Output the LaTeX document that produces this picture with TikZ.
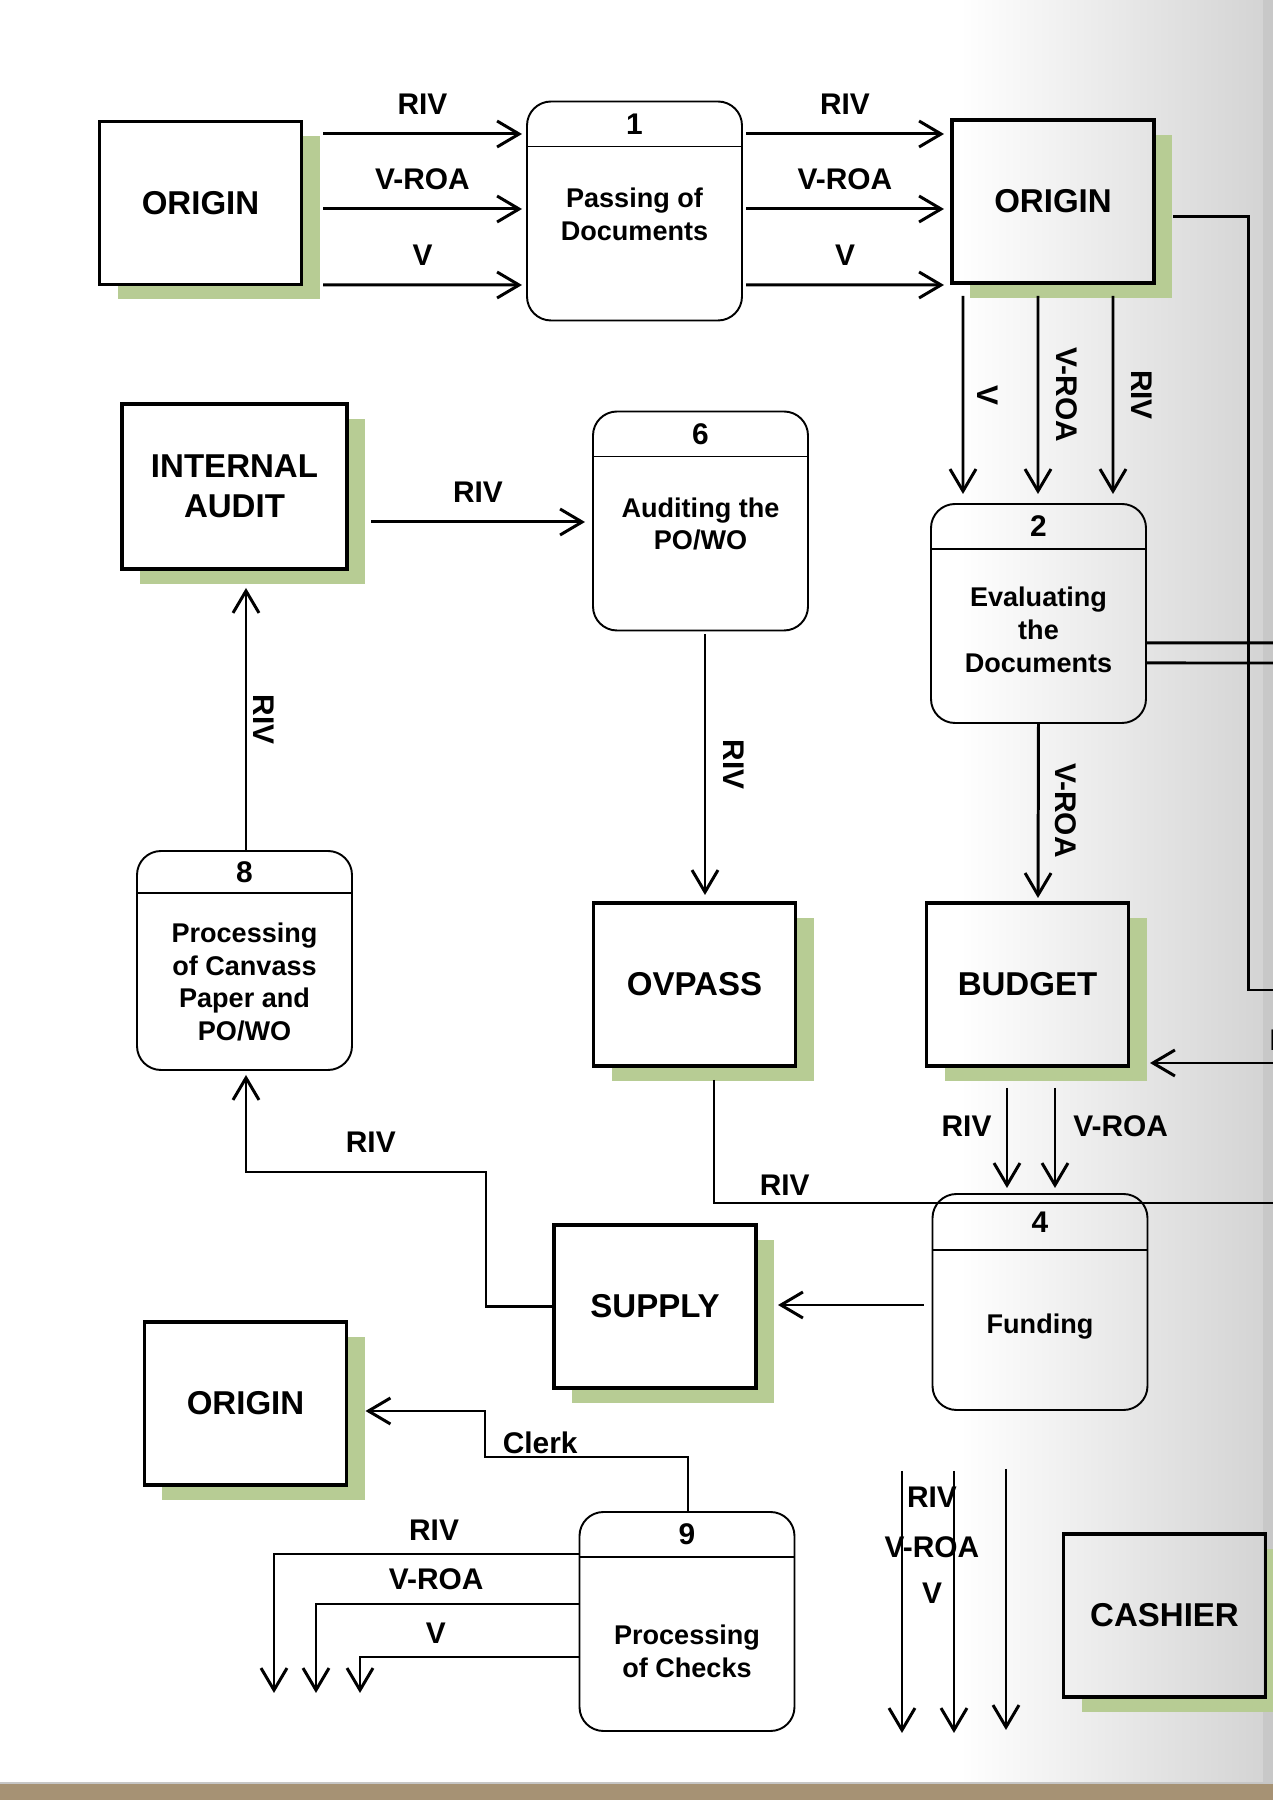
\documentclass[tikz,border=0pt]{standalone}
\usepackage{fontspec}
\setmainfont{Liberation Sans}
\usetikzlibrary{arrows.meta,calc,backgrounds}

\definecolor{shadowgreen}{RGB}{183,204,148}
\definecolor{pagegray}{RGB}{212,212,212}
\definecolor{edgegray}{RGB}{200,200,200}
\definecolor{tablebrown}{RGB}{166,146,116}

\newcommand{\entfont}{\fontsize{9.4}{11.4}\selectfont\bfseries}
\newcommand{\procfont}{\fontsize{7.7}{9.3}\selectfont\bfseries}
\newcommand{\lblfont}{\fontsize{8.5}{10}\selectfont\bfseries}

\begin{document}
\begin{tikzpicture}[line width=0.85pt,>={Straight Barb[length=2.2mm,width=2.6mm]},
  entity/.style={draw,line width=0.95pt,minimum width=2.02cm,minimum height=1.63cm,
    inner sep=0pt,outer sep=0pt,align=center,font=\entfont},
  proc/.style={draw,line width=0.55pt,rounded corners=0.24cm,minimum width=2.15cm,
    minimum height=2.19cm,inner sep=0pt,outer sep=0pt},
  num/.style={font=\lblfont,inner sep=0pt},
  ptext/.style={font=\procfont,align=center,inner sep=0pt},
  flow/.style={->},
  lbl/.style={font=\lblfont,inner sep=1pt},
  vlbl/.style={font=\lblfont,inner sep=0pt,inner ysep=4.5pt,rotate=-90,anchor=south}]
\useasboundingbox (0,0) rectangle (12.73,18);
% ---------- external entities ----------
\node[entity] (o1) at (2.005,15.97) {ORIGIN};
\node[entity] (o2) at (10.53,15.985) {ORIGIN};
\node[entity,minimum width=2.25cm,minimum height=1.65cm] (ia) at (2.345,13.135) {INTERNAL\\AUDIT};
\node[entity] (ovp) at (6.945,8.155) {OVPASS};
\node[entity] (bud) at (10.275,8.155) {BUDGET};
\node[entity] (sup) at (6.55,4.935) {SUPPLY};
\node[entity] (o3) at (2.455,3.965) {ORIGIN};
\node[entity] (cash) at (11.645,1.845) {CASHIER};
% ---------- processes ----------
\node[proc] (p1) at (6.345,15.89) {};
\node[proc] (p2) at (10.385,11.865) {};
\node[proc] (p6) at (7.005,12.79) {};
\node[proc] (p8) at (2.445,8.395) {};
\node[proc,minimum height=2.16cm] (p4) at (10.40,4.98) {};
\node[proc] (p9) at (6.87,1.785) {};
% header lines and numbers
\foreach \p/\n/\d in {p1/1/0.45,p2/2/0.45,p6/6/0.45,p8/8/0.42,p4/4/0.56,p9/9/0.45}{
  \draw[line width=0.45pt] ($(\p.north west)+(0,-\d)$) -- ($(\p.north east)+(0,-\d)$);
  \node[num] (n\n) at ($(\p.north)+(0,-\d/2)$) {\n};
}
\node[ptext] (t1) at (6.345,15.855) {Passing of\\Documents};
\node[ptext] (t2) at (10.385,11.70) {Evaluating\\the\\Documents};
\node[ptext] (t6) at (7.005,12.76) {Auditing the\\PO/WO};
\node[ptext] (t8) at (2.445,8.18) {Processing\\of Canvass\\Paper and\\PO/WO};
\node[ptext] (t4) at (10.40,4.73) {Funding};
\node[ptext] (t9) at (6.87,1.49) {Processing\\of Checks};
% ---------- free ends ----------
\coordinate (eA) at (12.8,8.10);
\coordinate (eB) at (12.8,11.57);
\coordinate (eC) at (12.8,11.37);
\coordinate (eD) at (12.8,7.37);
\coordinate (eE) at (12.8,5.97);
\coordinate (d1) at (2.74,1.07);
\coordinate (d2) at (3.16,1.07);
\coordinate (d3) at (3.60,1.07);
\coordinate (v1a) at (9.02,3.29);
\coordinate (v1b) at (9.02,0.67);
\coordinate (v2a) at (9.54,3.29);
\coordinate (v2b) at (9.54,0.67);
\coordinate (v3a) at (10.06,3.31);
\coordinate (v3b) at (10.06,0.70);
% ---------- flows ----------
% origin -> 1
\draw[flow] ($(o1.east)+(0.215,0.69)$) -- node[lbl,above=4pt] (a1) {RIV} ($(p1.west)+(-0.05,0.77)$);
\draw[flow] ($(o1.east)+(0.215,-0.06)$) -- node[lbl,above=4pt] (a2) {V-ROA} ($(p1.west)+(-0.05,0.02)$);
\draw[flow] ($(o1.east)+(0.215,-0.82)$) -- node[lbl,above=4pt] (a3) {V} ($(p1.west)+(-0.05,-0.74)$);
% 1 -> origin
\draw[flow] ($(p1.east)+(0.04,0.77)$) -- node[lbl,above=4pt] (b1) {RIV} ($(o2.west)+(-0.08,0.675)$);
\draw[flow] ($(p1.east)+(0.04,0.02)$) -- node[lbl,above=4pt] (b2) {V-ROA} ($(o2.west)+(-0.08,-0.075)$);
\draw[flow] ($(p1.east)+(0.04,-0.74)$) -- node[lbl,above=4pt] (b3) {V} ($(o2.west)+(-0.08,-0.835)$);
% origin -> 2
\draw[flow] ($(o2.south)+(-0.90,-0.13)$) -- node[midway,vlbl,inner ysep=3.7pt] (c1) {V} ($(p2.north)+(-0.755,0.10)$);
\draw[flow] ($(o2.south)+(-0.15,-0.13)$) -- node[midway,vlbl,inner ysep=4.8pt] (c2) {V-ROA} ($(p2.north)+(-0.005,0.10)$);
\draw[flow] ($(o2.south)+(0.60,-0.13)$) -- node[midway,vlbl,inner ysep=4.8pt] (c3) {RIV} ($(p2.north)+(0.745,0.10)$);
% origin -> right edge
\draw ($(o2.east)+(0.19,-0.155)$) -- ++(0.75,0) |- (eA);
% 2 -> right edge
\draw ($(p2.east)+(0,-0.295)$) -- (eB);
\draw ($(p2.east)+(0,-0.495)$) -- (eC);
% 2 -> budget
\draw[flow] (p2.south) -- node[midway,vlbl] (c4) {V-ROA} ($(bud.north)+(0.105,0.05)$);
% right edge -> budget
\draw[flow] (eD) -- ($(bud.east)+(0.215,-0.785)$);
\node[lbl,anchor=west] (cut) at (12.645,7.60) {RIV};
% budget -> 4
\draw[flow] ($(bud.south)+(-0.205,-0.22)$) -- node[lbl,pos=0.38,left=3pt] (g1) {RIV} ($(p4.north)+(-0.33,0.06)$);
\draw[flow] ($(bud.south)+(0.275,-0.22)$) -- node[lbl,pos=0.38,right=3.8pt] (g2) {V-ROA} ($(p4.north)+(0.15,0.06)$);
% 4 -> supply
\draw[flow] ($(p4.west)+(-0.09,-0.03)$) -- ($(sup.east)+(0.22,0.015)$);
% ovpass -> right edge
\draw ($(ovp.south)+(0.195,-0.14)$) |- node[lbl,pos=0.5625,above=0.8pt] (h1) {RIV} (eE);
% 6 -> ovpass
\draw[flow] ($(p6.south)+(0.045,-0.04)$) -- node[midway,vlbl,inner ysep=4.8pt] (c5) {RIV} ($(ovp.north)+(0.105,0.08)$);
% internal audit -> 6
\draw[flow] ($(ia.east)+(0.24,-0.355)$) -- node[lbl,above=4pt] (k1) {RIV} ($(p6.west)+(-0.08,-0.01)$);
% 8 -> internal audit
\draw[flow] ($(p8.north)+(0.015,0)$) -- node[midway,vlbl,inner ysep=1.7pt] (c6) {RIV} ($(ia.south)+(0.115,-0.19)$);
% supply -> 8
\draw[flow] (sup.west) -| (4.86,6.28) -| node[lbl,pos=0.24,above=4pt] (m1) {RIV} ($(p8.south)+(0.015,-0.05)$);
% 9 -> origin
\draw[flow] ($(p9.north)+(0.01,0)$) |- node[lbl,pos=0.864,above=0pt,inner sep=0.5pt] (ck) {Clerk} (4.85,3.43)
  |- ($(o3.east)+(0.19,-0.075)$);
% 9 -> out
\draw[flow] ($(p9.west)+(0,0.675)$) -| node[lbl,pos=0.238,above=2.5pt] (q1) {RIV} (d1);
\draw[flow] ($(p9.west)+(0,0.175)$) -| node[lbl,pos=0.272,above=2.5pt] (q2) {V-ROA} (d2);
\draw[flow] ($(p9.west)+(0,-0.355)$) -| node[lbl,pos=0.327,above=2.5pt] (q3) {V} (d3);
% loose arrows beside cashier
\draw[flow] (v1a) -- (v1b);
\draw[flow] (v2a) -- (v2b);
\draw[flow] (v3a) -- (v3b);
\node[lbl] (r1) at (9.32,3.03) {RIV};
\node[lbl] (r2) at (9.32,2.53) {V-ROA};
\node[lbl] (r3) at (9.32,2.07) {V};
% ---------- page and shadows ----------
\begin{scope}[on background layer]
  \fill[white] (0,0) rectangle (12.73,18);
  \shade[left color=white,right color=pagegray] (9.6,0) rectangle (12.63,18);
  \fill[edgegray] (12.63,0) rectangle (12.73,18);
  \fill[gray!45] (0,0.16) rectangle (12.73,0.18);
  \fill[tablebrown] (0,0) rectangle (12.73,0.16);
  \foreach \e in {o1,o2,ia,ovp,bud,sup,o3,cash}{
    \fill[shadowgreen] ($(\e.north east)+(0,-0.15)$) rectangle ($(\e.south east)+(0.18,-0.15)$);
    \fill[shadowgreen] ($(\e.south west)+(0.18,0)$) rectangle ($(\e.south east)+(0,-0.15)$);
  }
\end{scope}
\end{tikzpicture}
\end{document}
